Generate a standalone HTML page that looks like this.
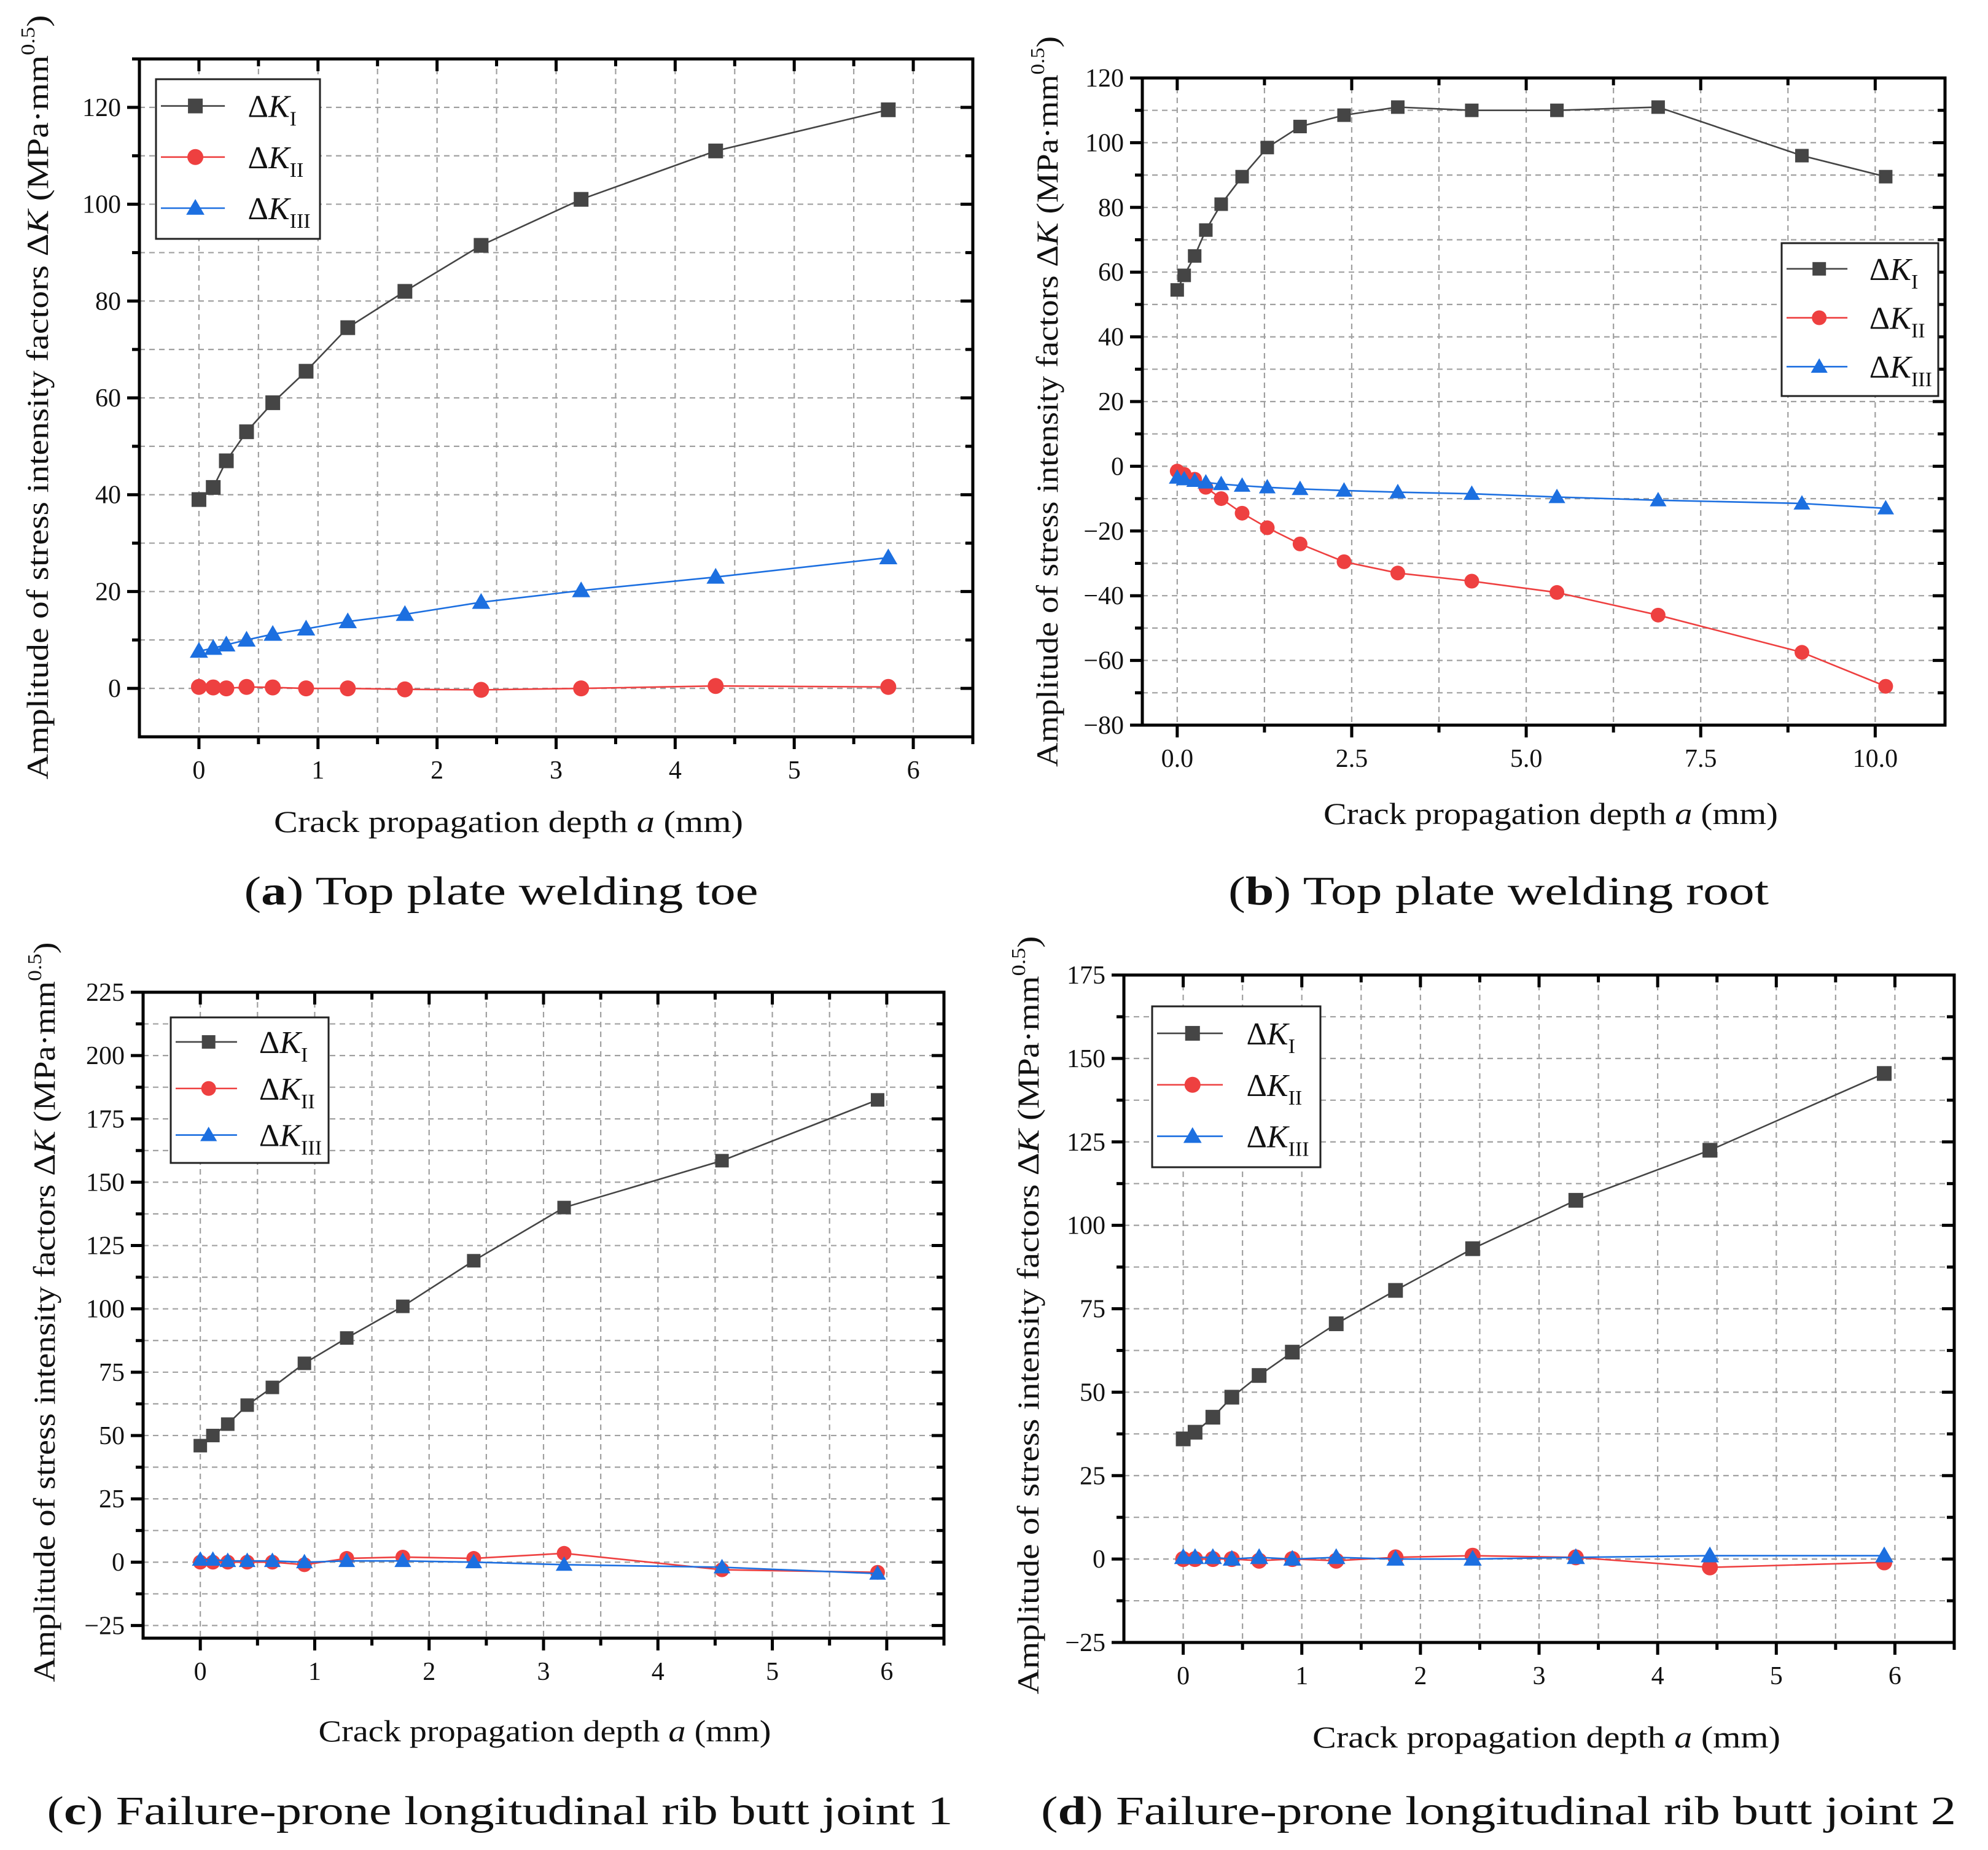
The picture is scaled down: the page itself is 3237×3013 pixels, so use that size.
<!DOCTYPE html>
<html><head><meta charset="utf-8"><style>
html,body{margin:0;padding:0;background:#fff}
svg{display:block}
text{font-family:"Liberation Serif",serif;fill:#111}
</style></head><body>
<svg id="fig" width="3237" height="3013" viewBox="0 0 3237 3013" xmlns="http://www.w3.org/2000/svg"></svg>
<script>
// ---- data (a) ----
const xA = [0, 0.12, 0.23, 0.40, 0.62, 0.90, 1.25, 1.73, 2.37, 3.21, 4.34, 5.79];
const k1A = [39, 41.5, 47, 53, 59, 65.5, 74.5, 82, 91.5, 101, 111, 119.5];
const k2A = [0.3, 0.2, 0, 0.3, 0.2, 0, 0, -0.2, -0.3, 0, 0.5, 0.3];
const k3A = [7.7, 8.3, 9, 10, 11.2, 12.3, 13.8, 15.3, 17.8, 20.2, 23, 27];
// ---- data (b) ----
const xB = [0, 0.1, 0.25, 0.41, 0.63, 0.93, 1.29, 1.76, 2.39, 3.16, 4.22, 5.44, 6.89, 8.95, 10.15];
const k1B = [54.5, 59, 65, 73, 81, 89.5, 98.5, 105, 108.5, 111, 110, 110, 111, 96, 89.5];
const k2B = [-1.5, -2.5, -4, -6.5, -10, -14.5, -19, -24, -29.5, -33, -35.5, -39, -46, -57.5, -68];
const k3B = [-3.5, -4, -4.5, -5, -5.5, -6, -6.5, -7, -7.5, -8, -8.5, -9.5, -10.5, -11.5, -13];
// ---- data (c) ----
const xC = [0, 0.11, 0.24, 0.41, 0.63, 0.91, 1.28, 1.77, 2.39, 3.18, 4.56, 5.92];
const k1C = [46, 50, 54.5, 62, 69, 78.5, 88.5, 101, 119, 140, 158.5, 182.5];
const k2C = [0, 0, 0, 0, 0, -1, 1.5, 2, 1.5, 3.5, -3, -4];
const k3C = [1, 1, 0.5, 0.5, 0.5, 0, 0.5, 0.5, 0, -1, -2, -4.5];
// ---- data (d) ----
const xD = [0, 0.1, 0.25, 0.41, 0.64, 0.92, 1.29, 1.79, 2.44, 3.31, 4.44, 5.91];
const k1D = [36, 38, 42.5, 48.5, 55, 62, 70.5, 80.5, 93, 107.5, 122.5, 145.5];
const k2D = [0, 0, 0, 0, -0.5, 0, -0.5, 0.5, 1, 0.5, -2.5, -1];
const k3D = [0.5, 0.5, 0.5, 0, 0.5, 0, 0.5, 0, 0, 0.5, 1, 1];
// ---- tick labels ----
const xTicksA = ["0","1","2","3","4","5","6"];
const yTicksA = ["0","20","40","60","80","100","120"];
const xTicksB = ["0.0","2.5","5.0","7.5","10.0"];
const yTicksB = ["-80","-60","-40","-20","0","20","40","60","80","100","120"];
const xTicksC = ["0","1","2","3","4","5","6"];
const yTicksC = ["-25","0","25","50","75","100","125","150","175","200","225"];
const xTicksD = ["0","1","2","3","4","5","6"];
const yTicksD = ["-25","0","25","50","75","100","125","150","175"];

const NS = "http://www.w3.org/2000/svg";
const fig = document.getElementById('fig');
function mk(tag, attrs, parent){
  const e = document.createElementNS(NS, tag);
  for (const k in attrs) e.setAttribute(k, attrs[k]);
  (parent||fig).appendChild(e);
  return e;
}
const C1="#454545", C2="#ee4040", C3="#1c6fe0";

function marker(g, type, x, y, col, s){
  let m;
  if(type==='sq') m = mk('rect',{x:x-s/2,y:y-s/2,width:s,height:s,fill:col},g);
  else if(type==='ci') m = mk('circle',{cx:x,cy:y,r:s/2+1,fill:col},g);
  else m = mk('polygon',{points:`${x},${y-s*0.62} ${x-s*0.62},${y+s*0.45} ${x+s*0.62},${y+s*0.45}`,fill:col},g);
  return m;
}

function chart(cfg){
  const g = mk('g',{});
  
  
  const {L,R,T,B,x0,x1,y0,y1} = cfg;
  const sx = v => L + (v-x0)/(x1-x0)*(R-L);
  const sy = v => B - (v-y0)/(y1-y0)*(B-T);
  const gg = mk('g',{stroke:"#a0a0a0","stroke-width":2.2,"stroke-dasharray":"9,7"},g);
  
  
  for(let v=cfg.xg0; v<=x1+1e-9; v+=cfg.xmin){ if(v>x0+1e-9 && v<x1-1e-9) mk('line',{x1:sx(v),x2:sx(v),y1:T,y2:B},gg); }
  for(let v=cfg.yg0; v<=y1+1e-9; v+=cfg.ymin){ if(v>y0+1e-9 && v<y1-1e-9) mk('line',{x1:L,x2:R,y1:sy(v),y2:sy(v)},gg); }
  const tg = mk('g',{stroke:"#000","stroke-width":5},g);
  for(let v=cfg.xg0; v<=x1+1e-9; v+=cfg.xmin){
    const major = Math.abs(Math.round((v-cfg.xg0)/cfg.xmin))%2===0;
    const l = major?20:12;
    mk('line',{x1:sx(v),x2:sx(v),y1:B-2,y2:B+l},tg);
    mk('line',{x1:sx(v),x2:sx(v),y1:T,y2:T+l},tg);
  }
  for(let v=cfg.yg0; v<=y1+1e-9; v+=cfg.ymin){
    const major = Math.abs(Math.round((v-cfg.yg0)/cfg.ymin))%2===0;
    const l = major?20:12;
    mk('line',{x1:L-l,x2:L,y1:sy(v),y2:sy(v)},tg);
    mk('line',{x1:R-l,x2:R,y1:sy(v),y2:sy(v)},tg);
  }
  const fr = mk('rect',{x:L,y:T,width:R-L,height:B-T,fill:"none",stroke:"#000","stroke-width":5},g);
  
  
  cfg.xLabels.forEach((t,i)=>{
    const v = cfg.xg0 + i*cfg.xmin*2;
    const e = mk('text',{x:sx(v),y:B+68,"text-anchor":"middle","font-size":42,fill:"#222"},g);
    e.textContent = t;
    
    
  });
  cfg.yLabels.forEach((t,i)=>{
    const v = cfg.yg0 + i*cfg.ymin*2;
    const e = mk('text',{x:L-30,y:sy(v)+14,"text-anchor":"end","font-size":42,fill:"#222"},g);
    e.textContent = t.replace('-','\u2212');
    
    
  });
  const series = [[cfg.k1,C1,'sq','series-k1'],[cfg.k2,C2,'ci','series-k2'],[cfg.k3,C3,'tr','series-k3']];
  const order = cfg.order || [0,1,2];
  order.forEach(si=>{
    const [ys,col,mt,nm] = series[si];
    const sg = mk('g',{},g);
    
    
    const pts = cfg.x.map((xv,i)=>sx(xv)+','+sy(ys[i])).join(' ');
    mk('polyline',{points:pts,fill:'none',stroke:col,'stroke-width':2.6},sg);
    cfg.x.forEach((xv,i)=>{
      const m = marker(sg, mt, sx(xv), sy(ys[i]), col, cfg.ms);
      
      
    });
  });
  const lg = mk('g',{},g);
  
  
  const lb = cfg.leg;
  mk('rect',{x:lb[0],y:lb[1],width:lb[2],height:lb[3],fill:'#fff',stroke:'#222','stroke-width':3},lg);
  const subs=['I','II','III'];
  series.forEach((s,i)=>{
    const cy = lb[1] + lb[3]*(0.16+0.32*i) + 2;
    const e = mk('g',{},lg);
    
    
    mk('line',{x1:lb[0]+8,x2:lb[0]+lb[2]*0.42,y1:cy,y2:cy,stroke:s[1],'stroke-width':2.6},e);
    marker(e, s[2], lb[0]+lb[2]*0.24, cy, s[1], cfg.ms);
    const t = mk('text',{x:lb[0]+lb[2]*0.56,y:cy+18,'font-size':52,fill:'#000'},e);
    t.innerHTML = 'Δ<tspan font-style="italic">K</tspan><tspan font-size="34" dy="14">'+subs[i]+'</tspan>';
  });
  const xt = mk('text',{x:cfg.xt[0],y:cfg.xt[1],'text-anchor':'middle','font-size':50,fill:'#222',textLength:cfg.xt[2],lengthAdjust:'spacingAndGlyphs'},g);
  xt.innerHTML = 'Crack propagation depth  <tspan font-style="italic">a</tspan> (mm)';
  
  
  const yt = mk('text',{x:0,y:0,'text-anchor':'middle','font-size':50,fill:'#222',transform:`translate(${cfg.yt[0]},${cfg.yt[1]}) rotate(-90)`,textLength:cfg.yt[2],lengthAdjust:'spacingAndGlyphs'},g);
  yt.innerHTML = 'Amplitude of stress intensity factors Δ<tspan font-style="italic">K</tspan> (MPa·mm<tspan font-size="32" dy="-22">0.5</tspan><tspan dy="22">)</tspan>';
  
  
  const cp = mk('text',{x:cfg.cap[0],y:cfg.cap[1],'text-anchor':'middle','font-size':66,fill:'#000',textLength:cfg.cap[2],lengthAdjust:'spacingAndGlyphs'},g);
  cp.innerHTML = '(<tspan font-weight="bold">'+cfg.id+'</tspan>) '+cfg.capText;
  
  
}

chart({id:'a',L:227,R:1584,T:96,B:1200,x0:-0.5,x1:6.5,y0:-10,y1:130,xg0:0,xmin:0.5,yg0:0,ymin:10,
  x:xA,k1:k1A,k2:k2A,k3:k3A,xLabels:xTicksA,yLabels:yTicksA,ms:24,order:[0,2,1],
  leg:[254,129,267,260],xt:[828,1355,764],yt:[78,647,1245],cap:[816,1473,837],capText:'Top plate welding toe'});
chart({id:'b',L:1860,R:3167,T:127,B:1181,x0:-0.5,x1:11,y0:-80,y1:120,xg0:0,xmin:1.25,yg0:-80,ymin:10,
  x:xB,k1:k1B,k2:k2B,k3:k3B,xLabels:xTicksB,yLabels:yTicksB,ms:22,order:[0,1,2],
  leg:[2901,396,255,249],xt:[2525,1342,740],yt:[1722,654,1190],cap:[2440,1473,880],capText:'Top plate welding root'});
chart({id:'c',L:233,R:1537,T:1616,B:2668,x0:-0.5,x1:6.5,y0:-30,y1:225,xg0:0,xmin:0.5,yg0:-25,ymin:12.5,
  x:xC,k1:k1C,k2:k2C,k3:k3C,xLabels:xTicksC,yLabels:yTicksC,ms:22,order:[0,1,2],
  leg:[278,1657,257,237],xt:[887,2836,737],yt:[89,2137,1205],cap:[814,2971,1475],capText:'Failure-prone longitudinal rib butt joint 1'});
chart({id:'d',L:1830,R:3182,T:1588,B:2675,x0:-0.5,x1:6.5,y0:-25,y1:175,xg0:0,xmin:0.5,yg0:-25,ymin:12.5,
  x:xD,k1:k1D,k2:k2D,k3:k3D,xLabels:xTicksD,yLabels:yTicksD,ms:24,order:[0,1,2],
  leg:[1876,1639,274,262],xt:[2518,2846,762],yt:[1691,2142,1235],cap:[2440,2971,1490],capText:'Failure-prone longitudinal rib butt joint 2'});
</script>
</body></html>
